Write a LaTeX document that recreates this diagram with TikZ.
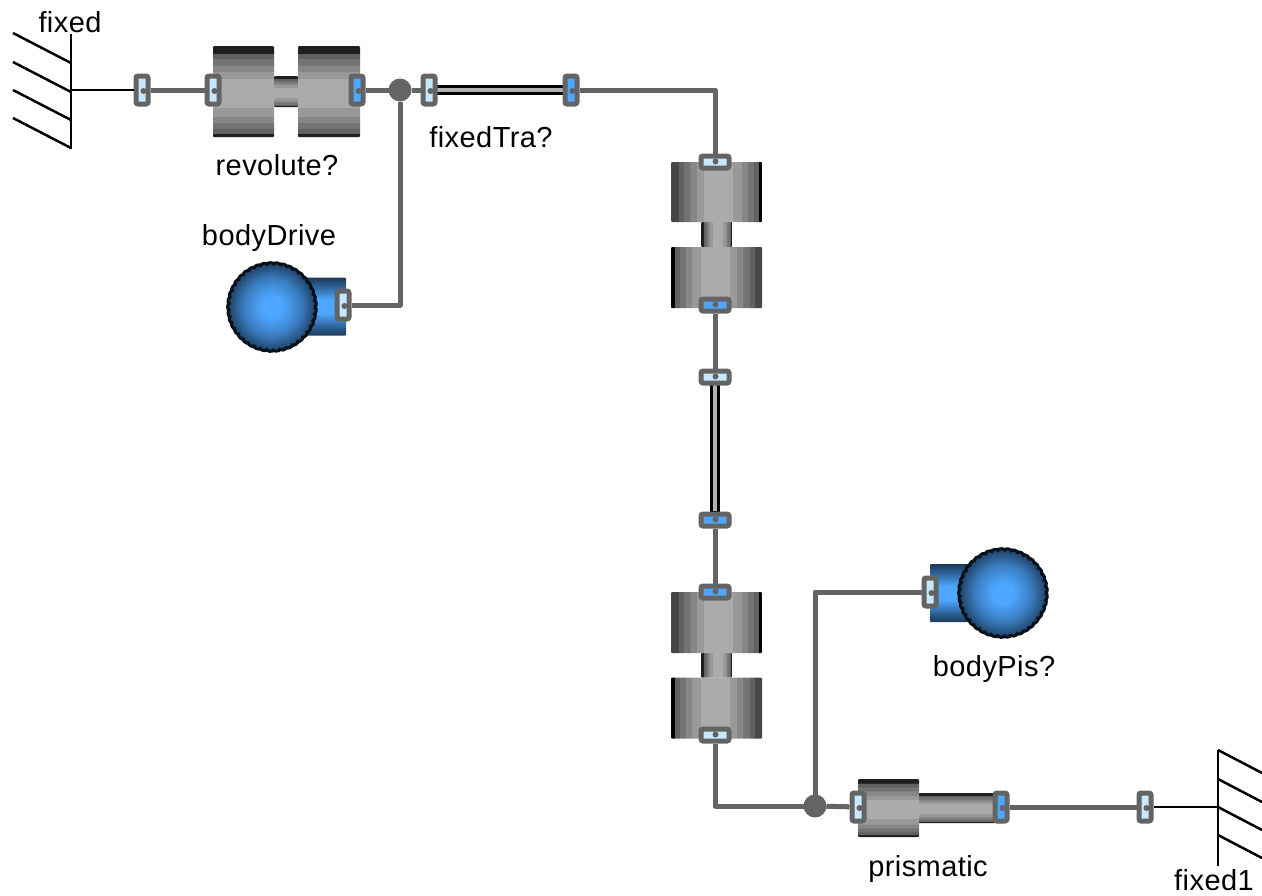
\documentclass[tikz,border=0pt]{standalone}
\usepackage{fontspec}
\usetikzlibrary{decorations.pathmorphing}
\setmainfont{Liberation Sans}[LetterSpace=1.5]
\definecolor{wirecol}{HTML}{646464}
\definecolor{portlight}{HTML}{C8E8FF}
\definecolor{portblue}{HTML}{4DA6FF}
\newcommand{\cylsteps}{color(27.1bp)=(black!62); color(29.5bp)=(black!62);
  color(29.6bp)=(black!55); color(33bp)=(black!55); color(33.1bp)=(black!47); color(36bp)=(black!47);
  color(36.1bp)=(black!40); color(41bp)=(black!40); color(41.1bp)=(black!33); color(57bp)=(black!33);
  color(57.1bp)=(black!40); color(61bp)=(black!40); color(61.1bp)=(black!47); color(64.5bp)=(black!47);
  color(64.6bp)=(black!55); color(68bp)=(black!55); color(68.1bp)=(black!62); color(71bp)=(black!62)}
\pgfdeclareverticalshading{cylband}{100bp}{color(0bp)=(black!88); color(27bp)=(black!88);
  \cylsteps; color(71.1bp)=(black!88); color(100bp)=(black!88)}
\pgfdeclareverticalshading{cylside}{100bp}{color(0bp)=(black); color(27bp)=(black);
  \cylsteps; color(71.1bp)=(black!72); color(100bp)=(black!72)}
\pgfdeclareverticalshading{bodyband}{100bp}{color(0bp)=(portblue!35!black); color(25bp)=(portblue!35!black);
  color(33bp)=(portblue!60!black); color(44bp)=(portblue); color(56bp)=(portblue);
  color(67bp)=(portblue!60!black); color(75bp)=(portblue!35!black); color(100bp)=(portblue!35!black)}
\pgfdeclareradialshading{bodyball}{\pgfpoint{0bp}{0bp}}{color(0bp)=(portblue); color(6bp)=(portblue);
  color(16bp)=(portblue!75!black); color(25bp)=(portblue!38!black); color(50bp)=(portblue!38!black)}
\begin{document}
\begin{tikzpicture}[x=1pt,y=-1pt,
   every node/.style={inner sep=0pt,outer sep=0pt},
   wire/.style={draw=wirecol,line width=5pt,line join=round},
   mount/.style={draw=black,line width=2.5pt},
   porth/.style={draw=wirecol,line width=5pt,rounded corners=2pt,minimum width=12pt,minimum height=28pt,
      outer sep=2.5pt,path picture={\fill[wirecol] ([shift={(1.5pt,-1pt)}]path picture bounding box.center) circle (3pt);}},
   portv/.style={draw=wirecol,line width=5pt,rounded corners=2pt,minimum width=28pt,minimum height=12pt,
      outer sep=2.5pt,path picture={\fill[wirecol] ([shift={(0.5pt,0.5pt)}]path picture bounding box.center) circle (3pt);}},
   cylh/.style={shade,shading=cylband,rounded corners=1pt},
   cylv/.style={cylh,shading=cylband,shading angle=90},
   cyltop/.style={cylh,shading=cylside,shading angle=90},
   cylbot/.style={cylh,shading=cylside,shading angle=-90},
   rod/.style={draw=black,fill=black!30,line width=3.5pt},
   bodybox/.style={shade,shading=bodyband,rounded corners=1pt,minimum width=50pt,minimum height=58pt},
   bodyround/.style={circle,shade,shading=bodyball,draw=black!90!portblue,line width=3pt,minimum size=85pt,
      decorate,decoration={bumps,mirror,segment length=13pt,amplitude=1.8pt}},
   junction/.style={circle,fill=wirecol,minimum size=23pt},
   tag/.style={font=\fontsize{29}{32}\selectfont}]

\useasboundingbox (0,0) rectangle (1262,895);

\node[cylh,minimum width=24pt,minimum height=31pt] (revAxle) at (286,91.5) {};
\node[cylh,minimum width=61pt,minimum height=91pt] (revLeft) at (243.5,91.5) {};
\node[cylh,minimum width=62pt,minimum height=91pt] (revRight) at (329,91.5) {};

\node[cylv,minimum width=31pt,minimum height=25pt] (revAxleB) at (716.5,234.5) {};
\node[cyltop,minimum width=91pt,minimum height=60pt] (revTopB) at (716.5,192) {};
\node[cylbot,minimum width=91pt,minimum height=61pt] (revBotB) at (716.5,277.5) {};

\node[cylv,minimum width=31pt,minimum height=25pt] (revAxleC) at (716.5,665) {};
\node[cyltop,minimum width=91pt,minimum height=61pt] (revTopC) at (716.5,622.5) {};
\node[cylbot,minimum width=91pt,minimum height=61pt] (revBotC) at (716.5,708) {};

\node[cylh,minimum width=86pt,minimum height=30pt] (prisRod) at (960,808) {};
\node[cylh,minimum width=61pt,minimum height=58pt] (prisCyl) at (888.5,808) {};

\node[rod,minimum width=130pt,minimum height=7pt] (rodTra) at (500,90) {};
\node[rod,minimum width=7pt,minimum height=130pt] (rodVert) at (715,448) {};

\node[bodybox] (driveBox) at (321,306.5) {};
\node[bodyround] (driveBall) at (272,307) {};
\node[bodybox] (pisBox) at (955,593) {};
\node[bodyround] (pisBall) at (1003,593) {};

\node[porth,fill=portlight] (fixedOut) at (142,90) {};
\node[porth,fill=portlight] (revIn) at (213,90) {};
\node[porth,fill=portblue] (revOut) at (357,90) {};
\node[porth,fill=portlight] (traIn) at (429,90) {};
\node[porth,fill=portblue] (traOut) at (571,90) {};
\node[porth,fill=portlight] (drivePort) at (343,305) {};
\node[portv,fill=portlight] (jointAIn) at (715,162) {};
\node[portv,fill=portblue] (jointAOut) at (715,305) {};
\node[portv,fill=portlight] (rodIn) at (715,377) {};
\node[portv,fill=portblue] (rodOut) at (715,520) {};
\node[portv,fill=portblue] (jointBIn) at (715,592) {};
\node[portv,fill=portlight] (jointBOut) at (715,735) {};
\node[porth,fill=portlight] (pisPort) at (930,592) {};
\node[porth,fill=portlight] (prisIn) at (858,807) {};
\node[porth,fill=portblue] (prisOut) at (1001,807) {};
\node[porth,fill=portlight] (fixedIn) at (1145,807) {};

\node[junction] (junA) at (400,90) {};
\node[junction] (junB) at (815,806) {};

\draw[wire] (fixedOut) -- (revIn);
\draw[wire] (revOut) -- (junA) -- (traIn);
\draw[wire] (traOut) -| (jointAIn);
\draw[wire] (junA) |- (drivePort);
\draw[wire] (jointAOut) -- (rodIn);
\draw[wire] (rodOut) -- (jointBIn);
\draw[wire] (jointBOut) |- (junB);
\draw[wire] (junB) -- (prisIn);
\draw[wire] (junB) |- (pisPort);
\draw[wire] (prisOut) -- (fixedIn);

\coordinate (wallA) at (71,90);
\coordinate (wallB) at (1218,807);
\draw[mount] (71,34) -- (71,149);
\draw[mount] (1218,750) -- (1218,866);
\foreach \y in {33,62,90,118} {
  \draw[mount] (13,\y) -- (71,\y+30);
}
\foreach \y in {750,779,807,835} {
  \draw[mount] (1218,\y) -- (1262,\y+23);
}
\draw[mount] (wallA) -- (fixedOut);
\draw[mount] (wallB) -- (fixedIn);

\node[tag] (fixedTag) at (70,22.5) {fixed};
\node[tag] (revTag) at (277,165) {revolute?};
\node[tag] (traTag) at (491,137) {fixedTra?};
\node[tag] (driveTag) at (269,238) {bodyDrive};
\node[tag] (pisTag) at (994,669) {bodyPis?};
\node[tag] (prisTag) at (928,869) {prismatic};
\node[tag] (fixedTagB) at (1214,880) {fixed1};

\end{tikzpicture}
\end{document}
